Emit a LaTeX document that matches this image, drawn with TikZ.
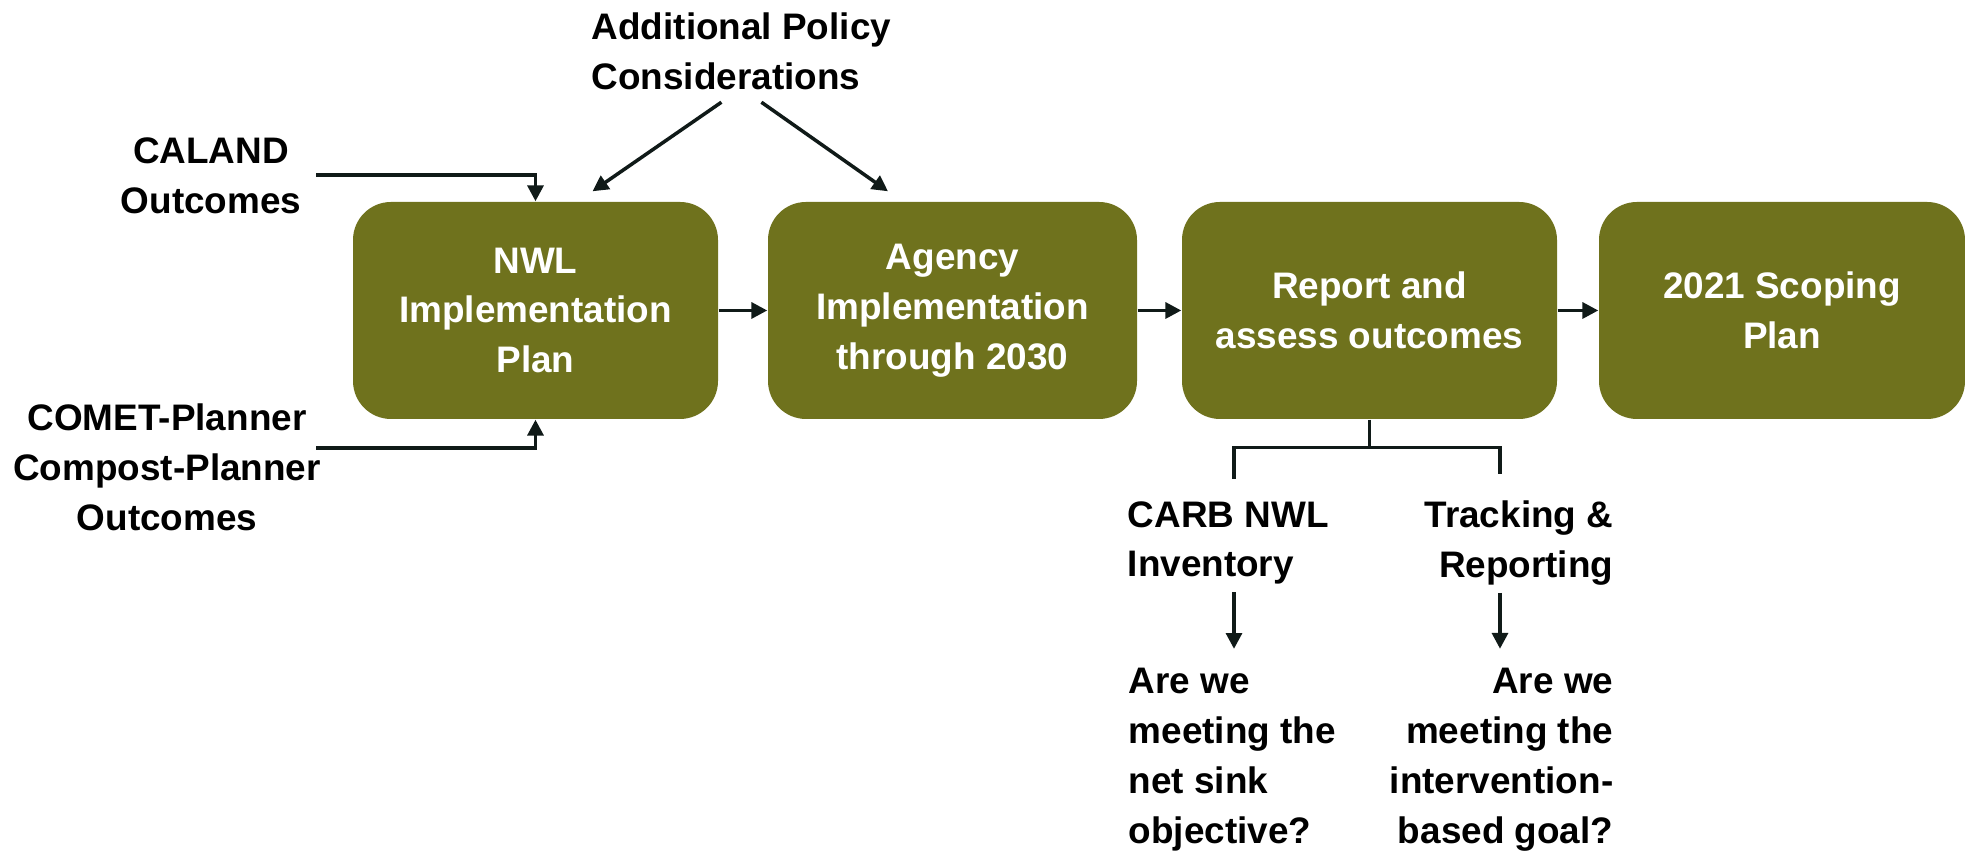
\documentclass[tikz,border=0pt]{standalone}
\usepackage{fontspec}
\setmainfont{Liberation Sans}
\usepackage{xcolor}
\usetikzlibrary{arrows.meta}
\definecolor{boxolive}{RGB}{111,114,29}
\definecolor{linedark}{RGB}{16,26,24}

\begin{document}
\begin{tikzpicture}[
    box/.style={fill=boxolive, rounded corners=0.38cm, minimum height=2.17cm, text=white, align=center, font=\bfseries\fontsize{10.5}{14.2}\selectfont},
    lbl/.style={inner sep=2pt, font=\bfseries\fontsize{10.5}{14.2}\selectfont},
    arr/.style={draw=linedark, line width=1pt, -{Triangle[length=4.5pt,width=4.5pt]}},
    link/.style={draw=linedark, line width=1pt}
]
    \useasboundingbox (0,0) rectangle (19.65,8.55);

    % main chain
    \node[box, minimum width=3.65cm] (nwl) at (5.355,5.445) {NWL\\Implementation\\Plan};
    \node[box, minimum width=3.69cm] (agency) at (9.525,5.445) {Agency\\Implementation\\through 2030};
    \node[box, minimum width=3.75cm] (report) at (13.695,5.445) {Report and\\assess outcomes};
    \node[box, minimum width=3.66cm] (scoping) at (17.82,5.445) {2021 Scoping\\Plan};

    % inputs
    \node[lbl, align=center] (caland) at (2.11,6.795) {CALAND\\Outcomes};
    \node[lbl, align=center] (comet) at (1.67,3.875) {COMET-Planner\\Compost-Planner\\Outcomes};
    \node[lbl, align=left, anchor=west] (policy) at (5.84,8.04) {Additional Policy\\Considerations};

    % outputs
    \node[lbl, align=left, anchor=west] (carb) at (11.20,3.12) {CARB NWL\\Inventory};
    \node[lbl, align=right, anchor=east] (track) at (16.21,3.12) {Tracking \&\\Reporting};
    \node[lbl, align=left, anchor=west] (sinkq) at (11.21,0.95) {Are we\\meeting the\\net sink\\objective?};
    \node[lbl, align=right, anchor=east] (goalq) at (16.21,0.95) {Are we\\meeting the\\intervention-\\based goal?};

    \coordinate (calandout) at (3.16,6.80);
    \coordinate (cometout) at (3.16,4.07);
    \coordinate (carbin) at (12.34,3.76);
    \coordinate (trackin) at (15.00,3.81);

    \draw[arr] (calandout) -| (nwl.north);
    \draw[arr] (cometout) -| (nwl.south);
    \draw[arr] ([xshift=-2mm,yshift=-0.5mm]policy.south) -- ([xshift=5.7mm,yshift=1mm]nwl.north);
    \draw[arr] ([xshift=2mm,yshift=-0.5mm]policy.south) -- ([xshift=-6.45mm,yshift=1mm]agency.north);

    \draw[arr] (nwl.east) -- (agency.west);
    \draw[arr] (agency.east) -- (report.west);
    \draw[arr] (report.east) -- (scoping.west);

    % branch below the report box
    \draw[link] (report.south) -- ++(0,-0.28) coordinate (fork);
    \draw[link] (carbin) |- (fork) -| (trackin);
    \draw[arr, shorten >=1.2mm] (carb.south -| carbin) -- (sinkq.north -| carbin);
    \draw[arr, shorten >=1.2mm] (track.south -| trackin) -- (goalq.north -| trackin);
\end{tikzpicture}
\end{document}
